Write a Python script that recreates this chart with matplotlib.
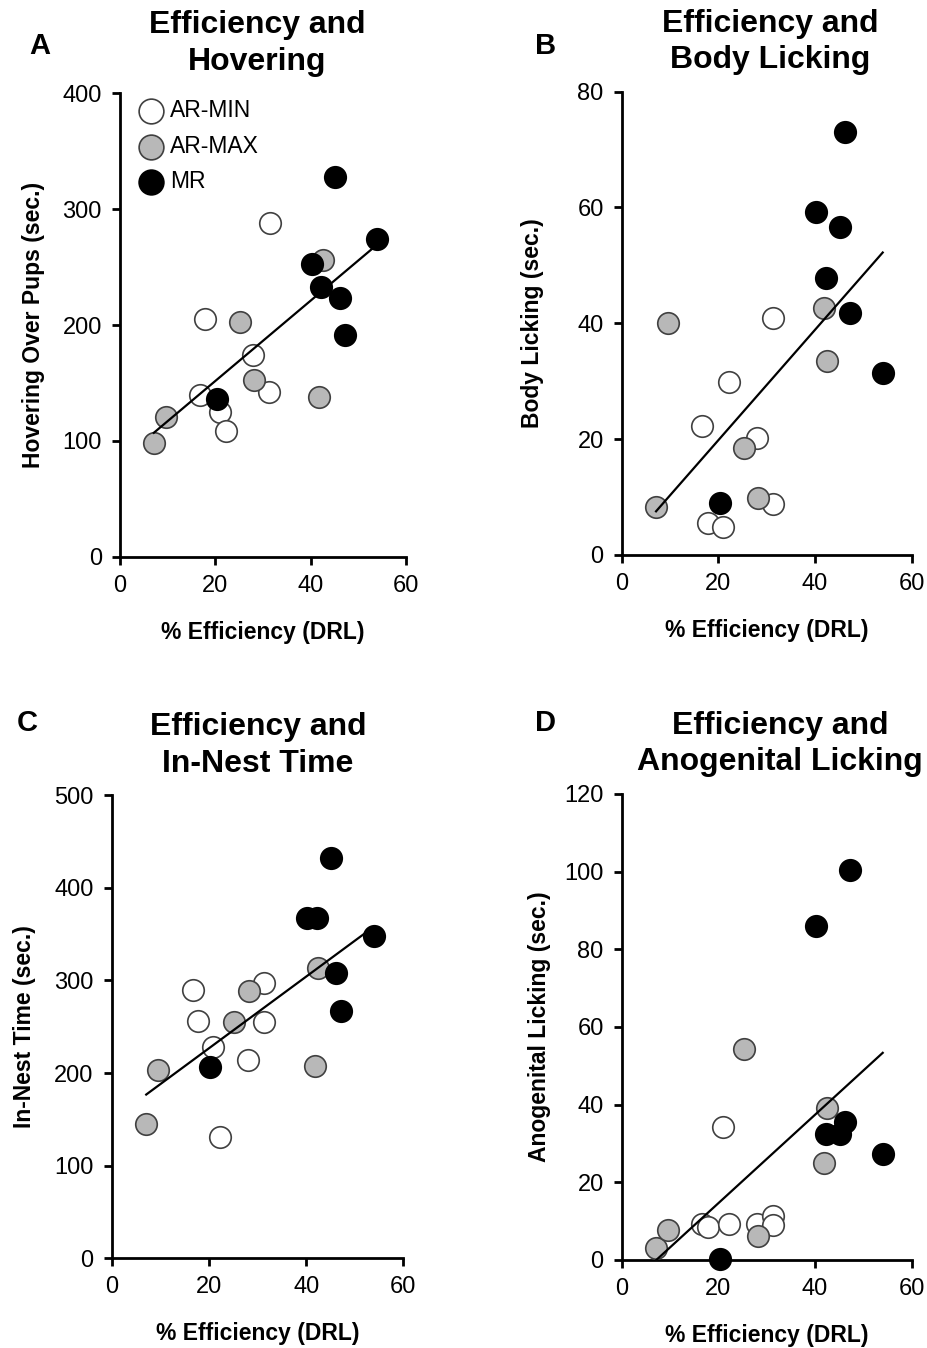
import numpy as np
import matplotlib
matplotlib.use("Agg")
import matplotlib.pyplot as plt

plt.rcParams["font.family"] = ["Liberation Sans", "DejaVu Sans"]

# % efficiency (DRL) per animal, by group
x_min = [16.7, 17.8, 20.9, 22.2, 28.0, 31.3, 31.4]
x_max = [7.1, 9.6, 25.2, 28.2, 41.8, 42.5]
x_mr = [20.3, 40.2, 42.2, 45.2, 46.2, 47.2, 54.0]

# A: hovering over pups (sec.)
hover_min = [140, 205, 125, 109, 174, 142, 288]
hover_max = [98.6, 120.5, 203, 153, 138, 256]
hover_mr = [136, 252.5, 232.7, 328, 223, 191, 274]

# B: body licking (sec.)
body_min = [22.2, 5.6, 4.9, 29.9, 20.2, 8.8, 40.9]
body_max = [8.3, 40.0, 18.4, 9.8, 42.7, 33.5]
body_mr = [9.0, 59.3, 47.9, 56.6, 73.1, 41.7, 31.5]

# C: in-nest time (sec.)
nest_min = [290, 256, 228, 131, 214, 255, 297]
nest_max = [144.6, 203, 255, 288, 207.5, 313]
nest_mr = [206, 367, 367, 431.7, 308, 267, 348]

# D: anogenital licking (sec.)
ano_min = [9.3, 8.6, 34.3, 9.2, 9.2, 11.3, 9.0]
ano_max = [3.2, 7.7, 54.3, 6.2, 24.9, 39.2]
ano_mr = [0.3, 86.1, 32.4, 32.4, 35.6, 100.3, 27.3]

groups = ["AR-MIN", "AR-MAX", "MR"]
fills = ["white", "#b8b8b8", "black"]
edges = ["#404040", "#404040", "black"]

panels = [
    ("A", "Efficiency and\nHovering", "Hovering Over Pups (sec.)",
     (hover_min, hover_max, hover_mr), 400, 100),
    ("B", "Efficiency and\nBody Licking", "Body Licking (sec.)",
     (body_min, body_max, body_mr), 80, 20),
    ("C", "Efficiency and\nIn-Nest Time", "In-Nest Time (sec.)",
     (nest_min, nest_max, nest_mr), 500, 100),
    ("D", "Efficiency and\nAnogenital Licking", "Anogenital Licking (sec.)",
     (ano_min, ano_max, ano_mr), 120, 20),
]

# axes boxes in figure fraction (left, bottom, width, height)
boxes = [
    (0.1294, 0.5868, 0.3085, 0.3442),
    (0.6707, 0.5883, 0.3128, 0.3437),
    (0.1205, 0.0665, 0.3146, 0.3437),
    (0.6707, 0.0653, 0.3128, 0.3457),
]
title_x = [0.479, 0.511, 0.502, 0.546]
ylabel_x = [-0.263, -0.268, -0.26, -0.245]
letter_pos = [(0.043, 0.966), (0.588, 0.966), (0.029, 0.464), (0.588, 0.464)]

fig = plt.figure(figsize=(9.27, 13.48), dpi=100)
xs = [x_min, x_max, x_mr]

for i, (letter, title, ylab, ys, ymax, ystep) in enumerate(panels):
    ax = fig.add_axes(boxes[i])
    handles = []
    for g in range(3):
        h = ax.scatter(xs[g], ys[g], s=240, c=fills[g], edgecolors=edges[g],
                       linewidths=1.2, zorder=3, label=groups[g], clip_on=False)
        handles.append(h)
    allx = np.concatenate([np.asarray(v, float) for v in xs])
    ally = np.concatenate([np.asarray(v, float) for v in ys])
    slope, icpt = np.polyfit(allx, ally, 1)
    lx = np.array([allx.min(), allx.max()])
    ax.plot(lx, slope * lx + icpt, color="black", lw=1.6, zorder=4)

    ax.set_xlim(0, 60)
    ax.set_ylim(0, ymax)
    ax.set_xticks([0, 20, 40, 60])
    ax.set_yticks(np.arange(0, ymax + 1, ystep))
    for s in ["top", "right"]:
        ax.spines[s].set_visible(False)
    for s in ["left", "bottom"]:
        ax.spines[s].set_linewidth(2)
    ax.tick_params(direction="out", length=6, width=2, labelsize=17, pad=7)

    ax.set_xlabel("% Efficiency (DRL)", fontsize=16.5, fontweight="bold")
    ax.xaxis.set_label_coords(0.5, -0.138)
    ax.set_ylabel(ylab, fontsize=16.5, fontweight="bold")
    ax.yaxis.set_label_coords(ylabel_x[i], 0.5)

    ax.text(title_x[i], 1.107, title, transform=ax.transAxes, ha="center",
            va="center", fontsize=23, fontweight="bold", linespacing=1.28)
    fig.text(letter_pos[i][0], letter_pos[i][1], letter, ha="center",
             va="center", fontsize=21, fontweight="bold")

    if i == 0:
        ax.legend(handles=handles, loc="upper left", bbox_to_anchor=(0.03, 1.007),
                  frameon=False, fontsize=16.5, markerscale=1.15,
                  handlelength=1.2, handletextpad=0.2, labelspacing=0.55,
                  borderaxespad=0)

fig.savefig("out.png", dpi=100, facecolor="white")
